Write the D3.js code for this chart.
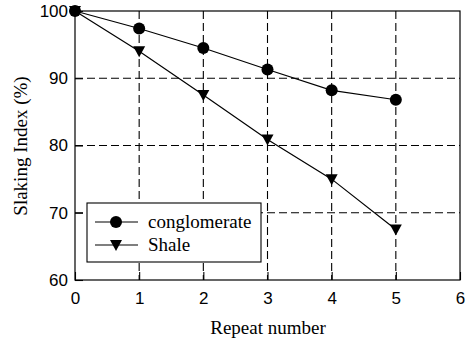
<!DOCTYPE html>
<html>
<head>
<meta charset="utf-8">
<script src="https://cdn.jsdelivr.net/npm/d3@7"></script>
<style>
body { margin: 0; background: #fff; }
</style>
</head>
<body>
<svg id="chart" width="467" height="342"></svg>
<script>
var repeats = [0, 1, 2, 3, 4, 5];
var conglomerate = [100, 97.4, 94.5, 91.3, 88.2, 86.8];
var shale = [100, 94, 87.5, 80.9, 75, 67.5];
var xTicks = [0, 1, 2, 3, 4, 5, 6];
var yTicks = [60, 70, 80, 90, 100];

var svg = d3.select("#chart");
var mLeft = 75, mRight = 460, mTop = 11, mBottom = 280;

var x = d3.scaleLinear().domain([0, 6]).range([mLeft, mRight]);
var y = d3.scaleLinear().domain([60, 100]).range([mBottom, mTop]);

// dashed grid
svg.selectAll(".gx").data(xTicks.slice(1, -1)).enter().append("line")
    .attr("x1", d => x(d)).attr("x2", d => x(d))
    .attr("y1", mTop).attr("y2", mBottom)
    .attr("stroke", "#000").attr("stroke-width", 1.1)
    .attr("stroke-dasharray", "8,4");
svg.selectAll(".gy").data(yTicks.slice(1, -1)).enter().append("line")
    .attr("x1", mLeft).attr("x2", mRight)
    .attr("y1", d => y(d)).attr("y2", d => y(d))
    .attr("stroke", "#000").attr("stroke-width", 1.1)
    .attr("stroke-dasharray", "8,4");

// frame
svg.append("rect")
    .attr("x", mLeft).attr("y", mTop)
    .attr("width", mRight - mLeft).attr("height", mBottom - mTop)
    .attr("fill", "none").attr("stroke", "#000").attr("stroke-width", 1.2);

// axes with inward ticks
var xAxis = d3.axisBottom(x).tickValues(xTicks).tickSize(-8).tickPadding(12)
    .tickFormat(d3.format("d"));
var gx = svg.append("g").attr("transform", "translate(0," + mBottom + ")").call(xAxis);
var yAxis = d3.axisLeft(y).tickValues(yTicks).tickSize(-8).tickPadding(7)
    .tickFormat(d3.format("d"));
var gy = svg.append("g").attr("transform", "translate(" + mLeft + ",0)").call(yAxis);
[gx, gy].forEach(function (g) {
    g.select(".domain").remove();
    g.selectAll("line").attr("stroke", "#000").attr("stroke-width", 1.1);
    g.selectAll("text").attr("fill", "#000")
        .style("font-family", "'Liberation Sans', Arial, sans-serif")
        .style("font-size", "17px");
});

var line = d3.line().x((d, i) => x(repeats[i])).y(d => y(d));

svg.append("path").datum(conglomerate).attr("d", line)
    .attr("fill", "none").attr("stroke", "#000").attr("stroke-width", 1.2);
svg.append("path").datum(shale).attr("d", line)
    .attr("fill", "none").attr("stroke", "#000").attr("stroke-width", 1.2);

var tri = "M-6,-5L6,-5L0,6Z";
svg.selectAll(".c").data(conglomerate).enter().append("circle")
    .attr("cx", (d, i) => x(repeats[i])).attr("cy", d => y(d))
    .attr("r", 6).attr("fill", "#000");
svg.selectAll(".s").data(shale).enter().append("path")
    .attr("d", tri)
    .attr("transform", (d, i) => "translate(" + x(repeats[i]) + "," + y(d) + ")")
    .attr("fill", "#000");

// legend
var lg = svg.append("g");
lg.append("rect").attr("x", 87).attr("y", 203).attr("width", 174).attr("height", 59)
    .attr("fill", "#fff").attr("stroke", "#000").attr("stroke-width", 1.1);
var items = [{name: "conglomerate", mark: "circle"}, {name: "Shale", mark: "tri"}];
items.forEach(function (it, i) {
    var yy = 222 + i * 23;
    lg.append("line").attr("x1", 95).attr("x2", 138).attr("y1", yy).attr("y2", yy)
        .attr("stroke", "#000").attr("stroke-width", 1.2);
    if (it.mark === "circle") {
        lg.append("circle").attr("cx", 116).attr("cy", yy).attr("r", 6).attr("fill", "#000");
    } else {
        lg.append("path").attr("d", tri).attr("transform", "translate(116," + yy + ")").attr("fill", "#000");
    }
    lg.append("text").attr("x", 148).attr("y", yy + 6).text(it.name)
        .style("font-family", "'Liberation Serif', 'Times New Roman', serif")
        .style("font-size", "19px");
});

// axis titles
svg.append("text").attr("x", 268).attr("y", 334)
    .attr("text-anchor", "middle").text("Repeat number")
    .style("font-family", "'Liberation Serif', 'Times New Roman', serif")
    .style("font-size", "19px");
svg.append("text").attr("transform", "translate(27,146) rotate(-90)")
    .attr("text-anchor", "middle").text("Slaking Index (%)")
    .style("font-family", "'Liberation Serif', 'Times New Roman', serif")
    .style("font-size", "19px");
</script>
</body>
</html>
